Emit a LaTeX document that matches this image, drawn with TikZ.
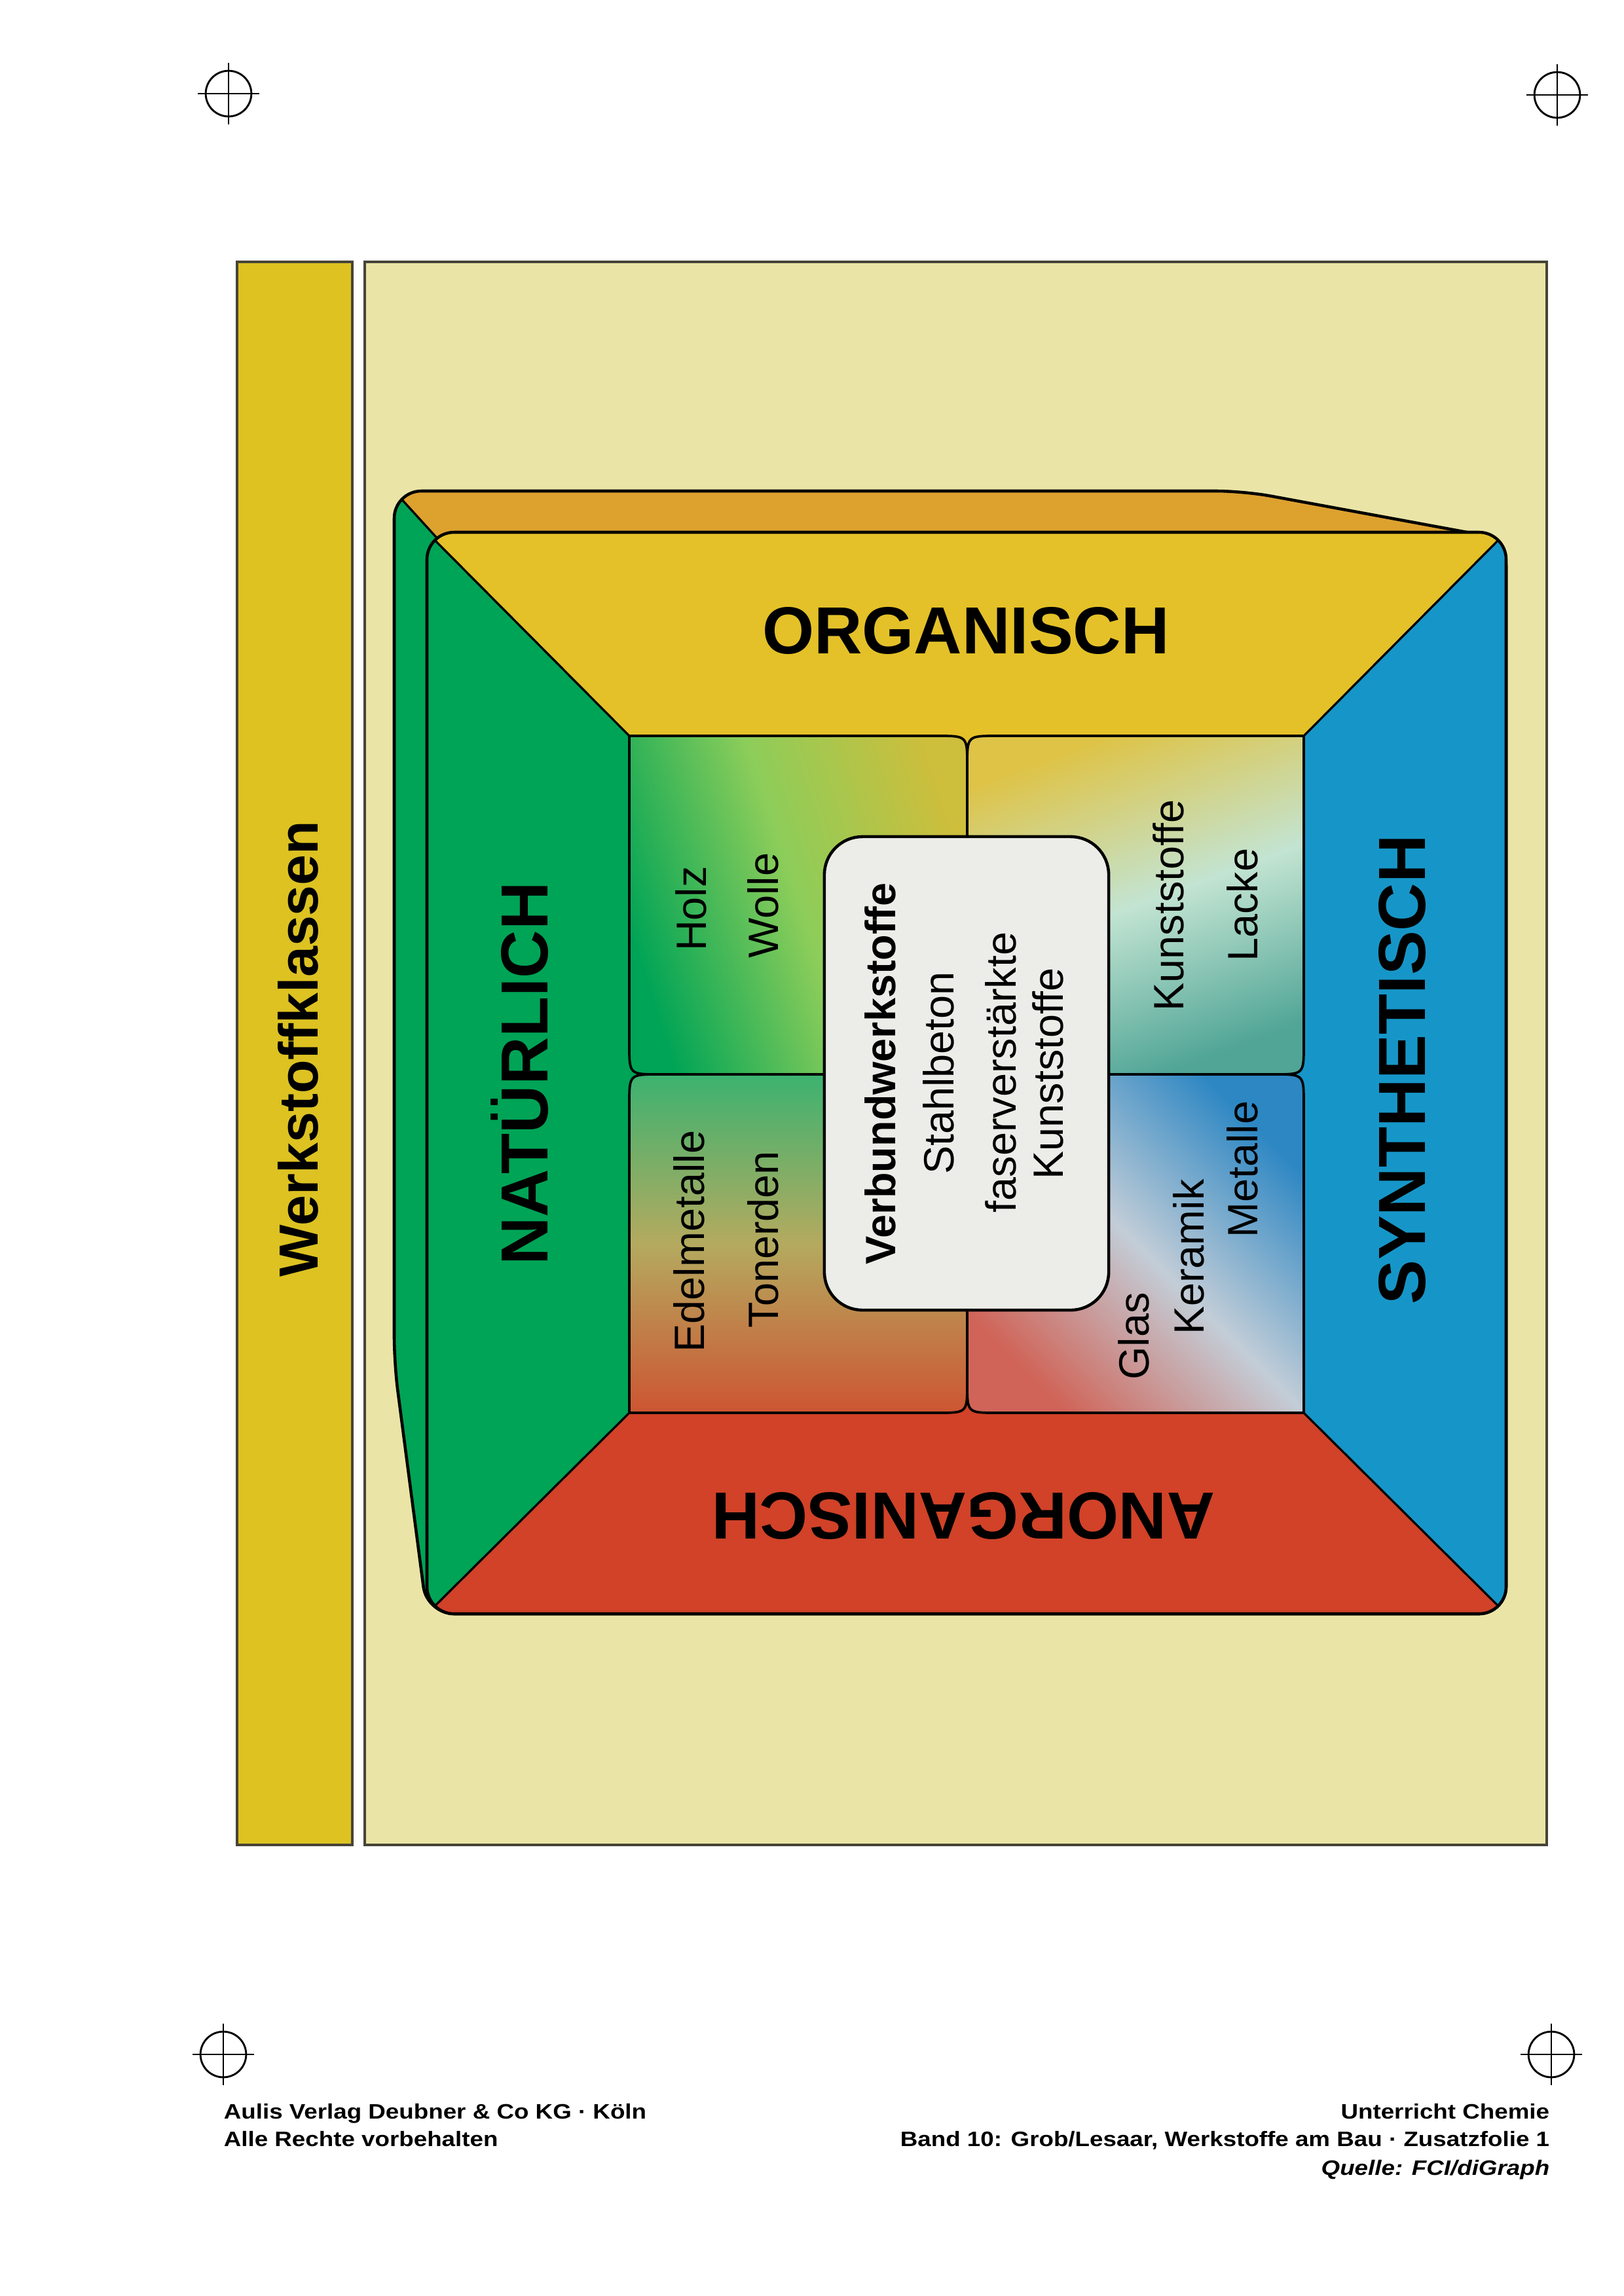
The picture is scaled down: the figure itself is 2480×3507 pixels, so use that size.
\documentclass[tikz,border=0pt]{standalone}
\usepackage{fontspec}
\setmainfont{Liberation Sans}
\newfontfamily\fussfont[FakeStretch=1.15]{Liberation Sans}

\definecolor{balkengelb}{RGB}{221,194,34}
\definecolor{feldgelb}{RGB}{234,229,166}
\definecolor{rahmengrau}{RGB}{70,68,55}
\definecolor{dachorange}{RGB}{221,161,46}
\definecolor{orggelb}{RGB}{228,193,40}
\definecolor{natgruen}{RGB}{0,164,86}
\definecolor{synblau}{RGB}{22,150,200}
\definecolor{anorot}{RGB}{209,66,40}
\definecolor{kerngrau}{RGB}{236,237,232}
% Mischfarben der Felder
\definecolor{hellgruen}{RGB}{140,205,90}
\definecolor{olivgelb}{RGB}{205,190,60}
\definecolor{blassgelb}{RGB}{222,195,70}
\definecolor{hellcyan}{RGB}{195,228,210}
\definecolor{tuerkis}{RGB}{80,165,150}
\definecolor{blattgruen}{RGB}{60,178,112}
\definecolor{khaki}{RGB}{180,170,95}
\definecolor{rostrot}{RGB}{205,85,50}
\definecolor{hellgrau}{RGB}{195,205,215}
\definecolor{rosa}{RGB}{208,100,88}
\definecolor{stahlblau}{RGB}{45,135,195}

\tikzset{
  kante/.style={draw=black, line width=1.1pt, line join=round},
  diag/.style={draw=black, line width=0.8pt},
  feld/.style={draw=black, line width=0.9pt},
  seite/.style={font=\fontsize{24.5}{28}\selectfont\bfseries, inner sep=0pt},
  stoff/.style={font=\fontsize{15.6}{19}\selectfont, rotate=90, anchor=base, inner sep=0pt},
  passer/.style={line width=0.7pt},
  fuss/.style={font=\fussfont\fontsize{7.7}{9}\selectfont\bfseries, inner sep=0pt},
}

\begin{document}
\begin{tikzpicture}[x=0.0846667mm, y=-0.0846667mm]
  \useasboundingbox (0,0) rectangle (2480,3507);
  \fill[white] (0,0) rectangle (2480,3507);

  %%%%%%%%%% Passkreuze %%%%%%%%%%
  \foreach \px/\py in {349/143, 2378/145, 341/3138, 2369/3138} {
    \draw[passer] (\px,\py) circle (8.4pt);
    \draw[passer] (\px-47,\py) -- (\px+47,\py);
    \draw[passer] (\px,\py-47) -- (\px,\py+47);
  }

  %%%%%%%%%% Rahmen %%%%%%%%%%
  \filldraw[fill=balkengelb, draw=rahmengrau, line width=0.9pt] (362,400) rectangle (538,2818);
  \filldraw[fill=feldgelb, draw=rahmengrau, line width=0.9pt] (557,400) rectangle (2362,2818);
  \node[rotate=90, anchor=base, inner sep=0pt, font=\fontsize{20.3}{24}\selectfont\bfseries] (klassen) at (485,1602) {Werkstoffklassen};

  %%%%%%%%%% Wuerfel: Rueckseite %%%%%%%%%%
  \begin{scope}
    \clip[rounded corners=10pt] (602,2083) -- (602,750) -- (1899,750) -- (2300,824) -- (2300,2465) -- (652,2465) -- cycle;
    \fill[dachorange] (560,700) rectangle (2340,2500);
    \fill[natgruen] (560,704) -- (672,827) -- (672,2500) -- (560,2500) -- cycle;
    \draw[diag] (560,704) -- (672,827);
  \end{scope}
  \draw[kante, rounded corners=10pt] (602,2083) -- (602,750) -- (1899,750) -- (2300,824) -- (2300,2465) -- (652,2465) -- cycle;

  %%%%%%%%%% Wuerfel: Vorderseite %%%%%%%%%%
  \begin{scope}
    \clip[rounded corners=10pt] (652,813) rectangle (2300,2465);
    \fill[orggelb] (652,813) -- (2300,813) -- (1991,1124) -- (1477,1641) -- (961,1124) -- cycle;
    \fill[synblau] (2300,813) -- (2300,2465) -- (1991,2158) -- (1477,1641) -- (1991,1124) -- cycle;
    \fill[anorot] (2300,2465) -- (652,2465) -- (961,2158) -- (1477,1641) -- (1991,2158) -- cycle;
    \fill[natgruen] (652,2465) -- (652,813) -- (961,1124) -- (1477,1641) -- (961,2158) -- cycle;
    \draw[diag] (652,813) -- (961,1124);
    \draw[diag] (2300,813) -- (1991,1124);
    \draw[diag] (2300,2465) -- (1991,2158);
    \draw[diag] (652,2465) -- (961,2158);
  \end{scope}
  \draw[kante, rounded corners=10pt] (652,813) rectangle (2300,2465);

  %%%%%%%%%% Felder %%%%%%%%%%
  \shadedraw[feld, top color=olivgelb, bottom color=natgruen, middle color=hellgruen, shading angle=-72]
    (961,1124) -- (1432,1124) .. controls (1477,1124) .. (1477,1169) -- (1477,1641)
    -- (1006,1641) .. controls (961,1641) .. (961,1596) -- cycle;
  \shadedraw[feld, top color=blassgelb, bottom color=tuerkis, middle color=hellcyan, shading angle=20]
    (1522,1124) -- (1991,1124) -- (1991,1596) .. controls (1991,1641) .. (1946,1641)
    -- (1477,1641) -- (1477,1169) .. controls (1477,1124) .. (1522,1124) -- cycle;
  \shadedraw[feld, top color=blattgruen, bottom color=rostrot, middle color=khaki, shading angle=0]
    (961,1686) .. controls (961,1641) .. (1006,1641) -- (1477,1641) -- (1477,2113)
    .. controls (1477,2158) .. (1432,2158) -- (961,2158) -- cycle;
  \shadedraw[feld, top color=stahlblau, bottom color=rosa, middle color=hellgrau, shading angle=-45]
    (1477,1641) -- (1946,1641) .. controls (1991,1641) .. (1991,1686) -- (1991,2158)
    -- (1522,2158) .. controls (1477,2158) .. (1477,2113) -- cycle;

  %%%%%%%%%% Kern %%%%%%%%%%
  \node[draw=black, line width=1.1pt, fill=kerngrau, rounded corners=14pt, inner sep=0pt,
        minimum width=104.6pt, minimum height=174.2pt] (verbund) at (1476,1639.5) {};

  %%%%%%%%%% Beschriftung %%%%%%%%%%
  \node[seite, anchor=base] (organisch) at (1475,998) {ORGANISCH};
  \node[seite, rotate=90, anchor=base] (natuerlich) at (836,1640) {NATÜRLICH};
  \node[seite, rotate=90, anchor=base] (synthetisch) at (2176,1634) {SYNTHETISCH};
  \node[seite, rotate=180, anchor=base] (anorganisch) at (1471,2280) {ANORGANISCH};

  \node[stoff] (holz) at (1078,1388) {Holz};
  \node[stoff] (wolle) at (1188,1383) {Wolle};
  \node[stoff] (kunststoffe) at (1807,1383) {Kunststoffe};
  \node[stoff] (lacke) at (1920,1382) {Lacke};
  \node[stoff] (edelmetalle) at (1075,1896) {Edelmetalle};
  \node[stoff] (tonerden) at (1188,1893) {Tonerden};
  \node[stoff] (glas) at (1754,2041) {Glas};
  \node[stoff] (keramik) at (1838,1920) {Keramik};
  \node[stoff] (metalle) at (1920,1786) {Metalle};

  \node[stoff, font=\fontsize{15.6}{19}\selectfont\bfseries] (verbundtext) at (1367,1640) {Verbundwerkstoffe};
  \node[stoff] (stahlbeton) at (1456,1639) {Stahlbeton};
  \node[stoff] (faser) at (1551,1638) {faserverstärkte};
  \node[stoff] (faserkunst) at (1623,1640) {Kunststoffe};

  %%%%%%%%%% Fusszeile %%%%%%%%%%
  \node[fuss, anchor=base west] (verlag) at (341,3236) {Aulis Verlag Deubner \& Co KG · Köln};
  \node[fuss, anchor=base west] (rechte) at (341,3278) {Alle Rechte vorbehalten};
  \node[fuss, anchor=base east] (reihe) at (2367,3236) {Unterricht Chemie};
  \node[fuss, anchor=base east] (band) at (2367,3278) {Band 10: Grob/Lesaar, Werkstoffe am Bau · Zusatzfolie 1};
  \node[fuss, anchor=base east, font=\fussfont\fontsize{7.7}{9}\selectfont\bfseries\itshape] (quelle) at (2367,3322) {Quelle: FCI/diGraph};
\end{tikzpicture}
\end{document}
